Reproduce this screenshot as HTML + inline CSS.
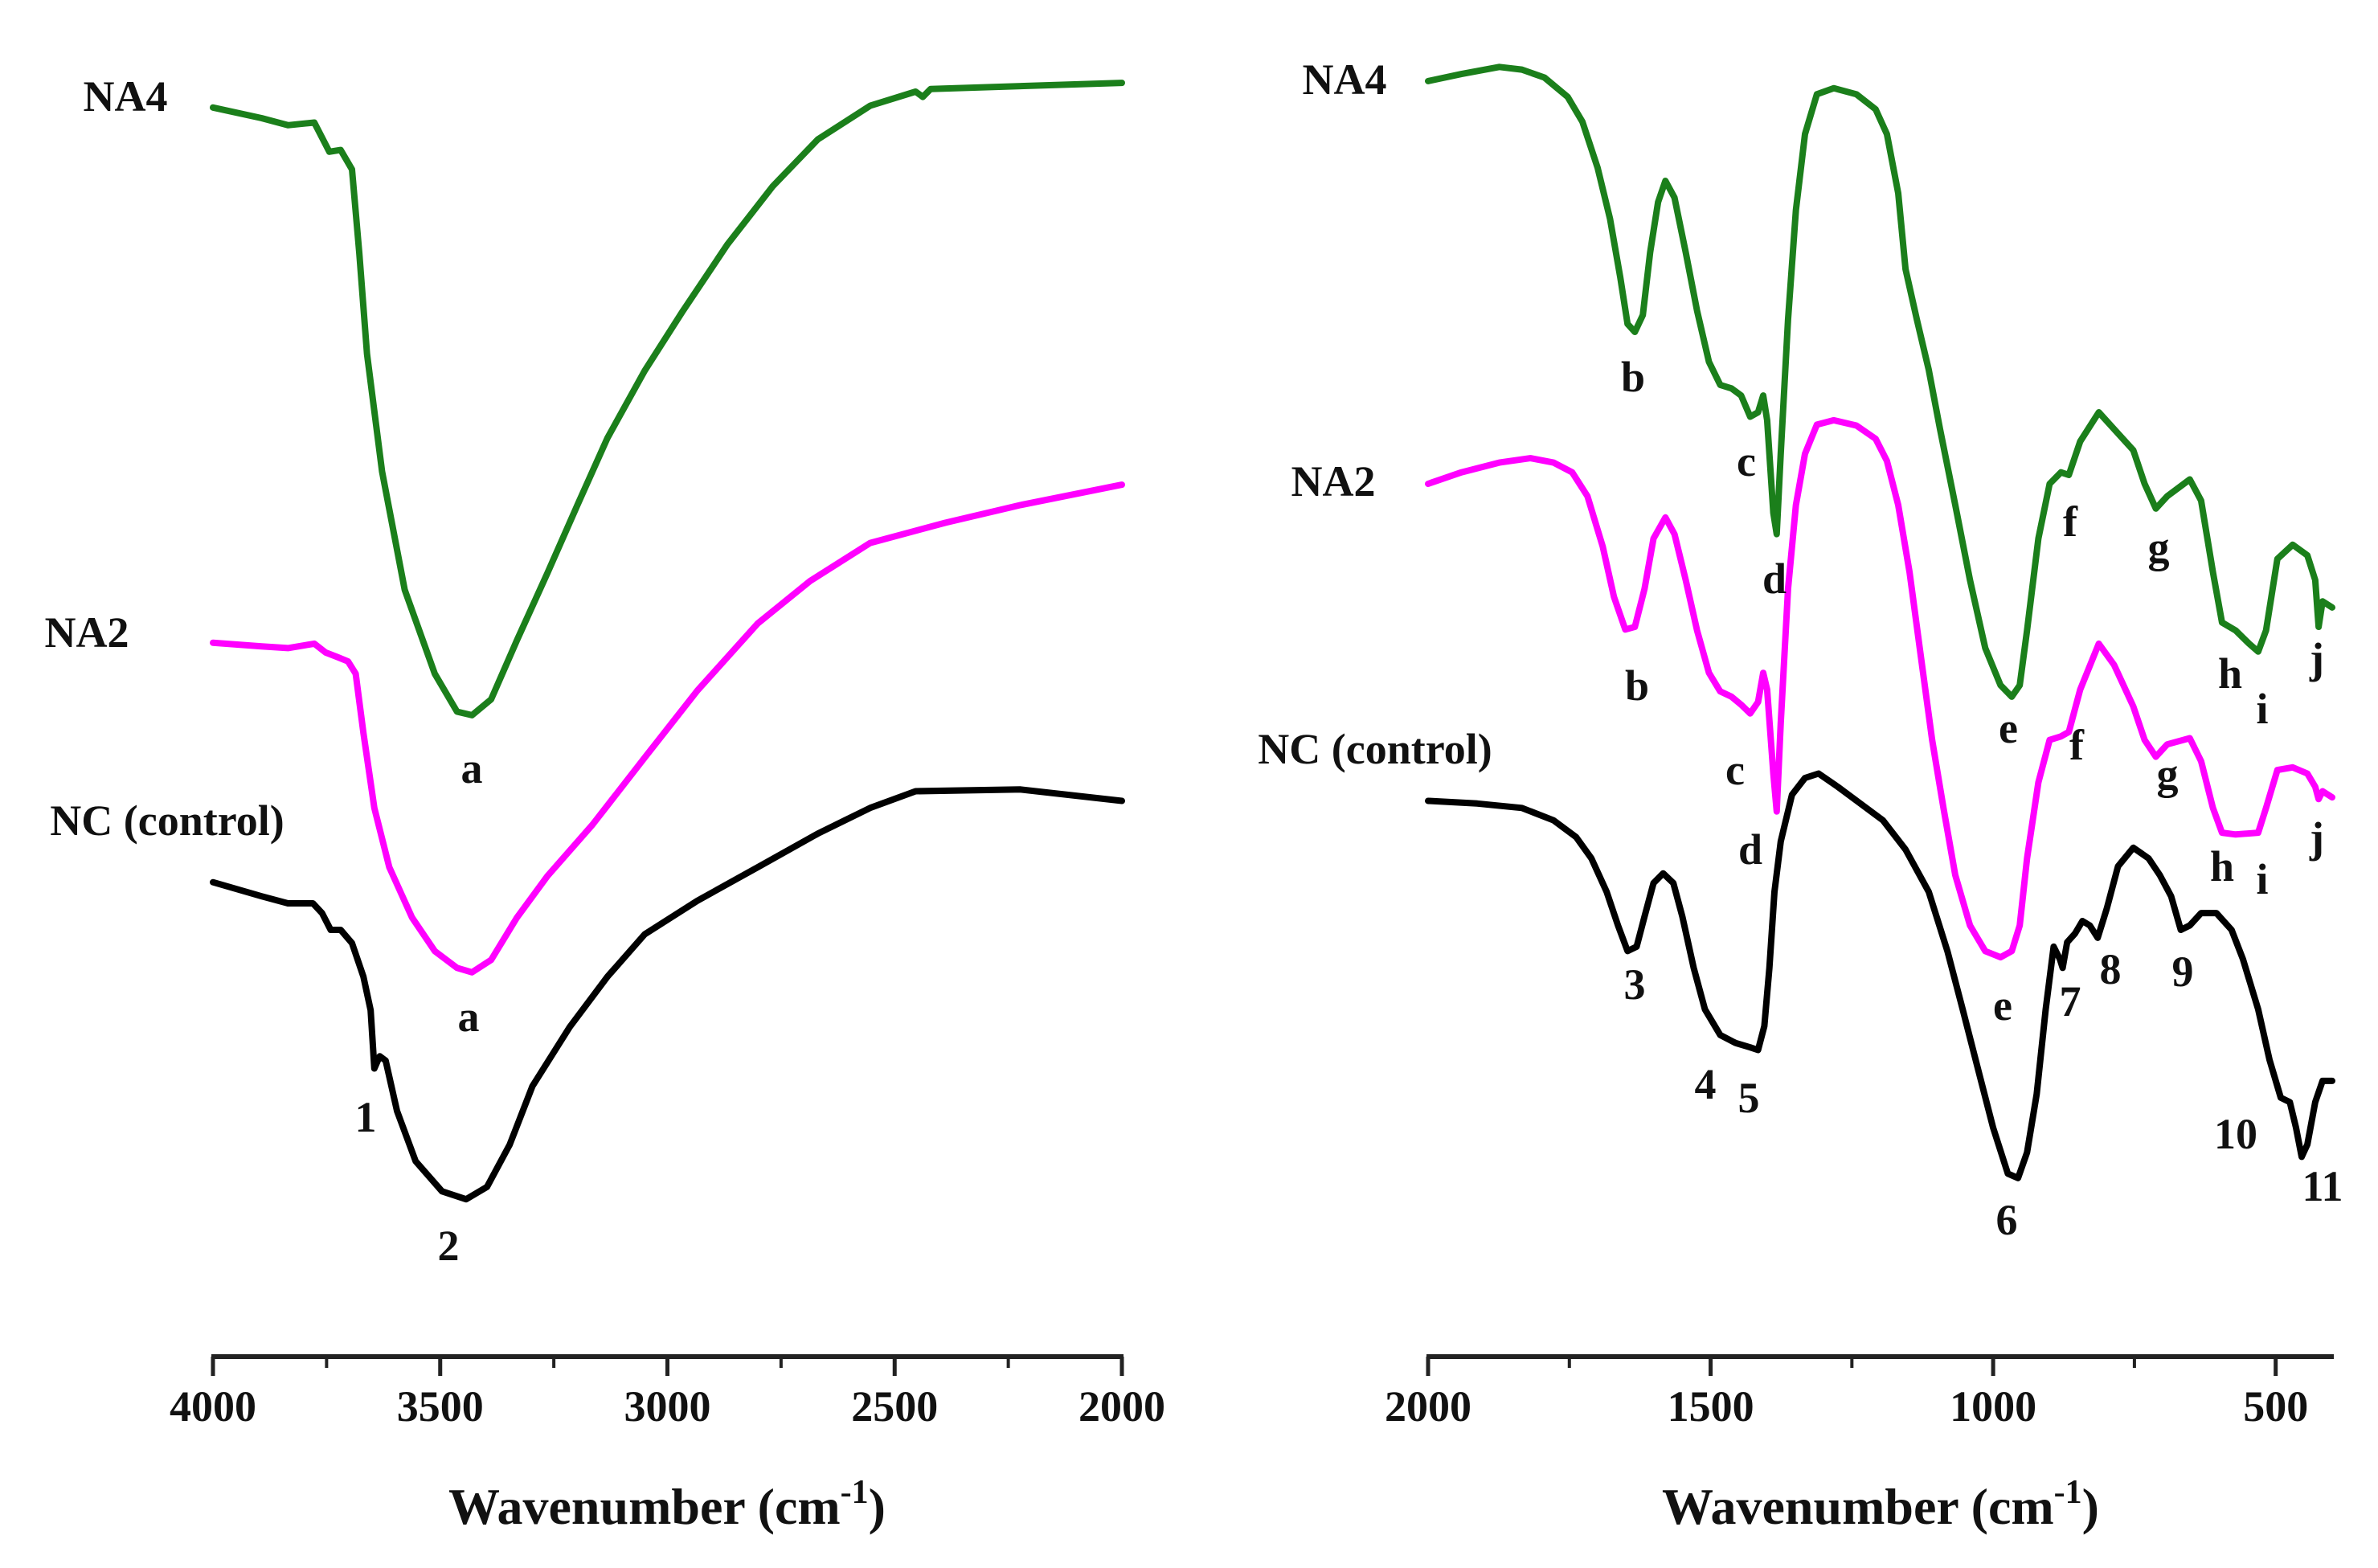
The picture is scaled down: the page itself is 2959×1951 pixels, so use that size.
<!DOCTYPE html>
<html><head><meta charset="utf-8"><style>
html,body{margin:0;padding:0;background:#fff;}
svg{display:block;font-family:"Liberation Serif",serif;font-weight:bold;}
</style></head><body>
<svg id="chart" width="2959" height="1951" viewBox="0 0 2959 1951" xmlns="http://www.w3.org/2000/svg">
<g id="axes"></g>
<g id="curves"></g>
<g font-size="54" fill="#111">
<text x="156" y="138" text-anchor="middle">NA4</text>
<text x="108" y="805" text-anchor="middle">NA2</text>
<text x="208" y="1039" text-anchor="middle">NC (control)</text>
<text x="587" y="974" text-anchor="middle">a</text>
<text x="583" y="1283" text-anchor="middle">a</text>
<text x="455" y="1408" text-anchor="middle">1</text>
<text x="558" y="1568" text-anchor="middle">2</text>
</g>
<g font-size="54" fill="#111">
<text x="1673" y="117" text-anchor="middle">NA4</text>
<text x="1659" y="617" text-anchor="middle">NA2</text>
<text x="1711" y="950" text-anchor="middle">NC (control)</text>
<text x="2032" y="487" text-anchor="middle">b</text>
<text x="2173" y="592" text-anchor="middle">c</text>
<text x="2208" y="738" text-anchor="middle">d</text>
<text x="2499" y="924" text-anchor="middle">e</text>
<text x="2576" y="667" text-anchor="middle">f</text>
<text x="2686" y="699" text-anchor="middle">g</text>
<text x="2775" y="856" text-anchor="middle">h</text>
<text x="2815" y="900" text-anchor="middle">i</text>
<text x="2883" y="837" text-anchor="middle">j</text>
<text x="2037" y="871" text-anchor="middle">b</text>
<text x="2159" y="976" text-anchor="middle">c</text>
<text x="2178" y="1075" text-anchor="middle">d</text>
<text x="2492" y="1269" text-anchor="middle">e</text>
<text x="2584" y="945" text-anchor="middle">f</text>
<text x="2697" y="981" text-anchor="middle">g</text>
<text x="2765" y="1096" text-anchor="middle">h</text>
<text x="2815" y="1112" text-anchor="middle">i</text>
<text x="2883" y="1060" text-anchor="middle">j</text>
<text x="2034" y="1243" text-anchor="middle">3</text>
<text x="2122" y="1367" text-anchor="middle">4</text>
<text x="2176" y="1384" text-anchor="middle">5</text>
<text x="2497" y="1536" text-anchor="middle">6</text>
<text x="2576" y="1264" text-anchor="middle">7</text>
<text x="2626" y="1224" text-anchor="middle">8</text>
<text x="2716" y="1227" text-anchor="middle">9</text>
<text x="2782" y="1429" text-anchor="middle">10</text>
<text x="2890" y="1494" text-anchor="middle">11</text>
</g>
<text x="830" y="1896" font-size="64" text-anchor="middle" fill="#111">Wavenumber (cm<tspan dy="-26" font-size="42">-1</tspan><tspan dy="26">)</tspan></text>
<text x="2340" y="1896" font-size="64" text-anchor="middle" fill="#111">Wavenumber (cm<tspan dy="-26" font-size="42">-1</tspan><tspan dy="26">)</tspan></text>
</svg>
<script>
// ---- data (wavenumber cm-1, transmittance a.u.) ----
const leftTicks = [4000, 3500, 3000, 2500, 2000];
const leftMinor = [3750, 3250, 2750, 2250];
const rightTicks = [2000, 1500, 1000, 500];
const rightMinor = [1750, 1250, 750];

const na4LeftWn = [4000,3893,3835,3777,3744,3719,3694,3678,3661,3628,3578,3512,3463,3430,3388,3331,3264,3198,3132,3050,2967,2868,2768,2669,2554,2454,2438,2421,2000];
const na4LeftT  = [183.0,181.8,181.0,181.3,178.0,178.2,176.0,166.5,155.1,141.8,128.4,118.9,114.6,114.2,116.0,122.7,130.3,138.0,145.6,153.2,159.9,167.5,174.1,179.4,183.2,184.8,184.2,185.1,185.8];

const na2LeftWn = [4000,3893,3835,3777,3752,3727,3703,3686,3669,3645,3612,3562,3512,3463,3430,3388,3331,3264,3165,3050,2934,2801,2686,2554,2388,2223,2000];
const na2LeftT  = [122.4,122.0,121.8,122.3,121.3,120.8,120.3,118.9,112.2,103.7,97.0,91.3,87.5,85.6,85.1,86.5,91.3,96.0,101.8,109.4,117.0,124.6,129.4,133.7,136.0,138.0,140.3];

const ncLeftWn = [4000,3893,3835,3780,3760,3741,3719,3694,3669,3653,3645,3633,3620,3595,3554,3496,3443,3397,3347,3297,3215,3132,3050,2934,2801,2669,2554,2454,2223,2000];
const ncLeftT  = [95.3,93.7,92.9,92.9,91.8,89.9,89.9,88.4,84.6,80.8,74.2,75.6,75.1,69.4,63.7,60.3,59.4,60.8,65.6,72.2,78.9,84.6,89.4,93.2,97.0,100.8,103.7,105.6,105.8,104.5];

const na4RightWn = [2000,1941,1874,1834,1794,1753,1727,1700,1678,1660,1647,1634,1620,1607,1593,1580,1564,1544,1524,1503,1483,1463,1446,1430,1416,1407,1400,1389,1383,1376,1363,1349,1333,1312,1282,1242,1208,1188,1168,1155,1135,1114,1094,1067,1041,1014,987,967,953,940,920,900,880,866,846,813,786,752,732,712,692,652,632,611,595,571,547,531,517,497,470,444,430,424,417,400];
const na4RightT  = [186.0,186.8,187.6,187.3,186.4,184.2,181.4,176.2,170.4,163.8,158.5,157.6,159.5,166.6,172.3,174.7,172.8,166.6,160.0,154.2,151.6,151.2,150.4,148.0,148.5,150.4,147.6,137.1,134.7,143.8,159.0,171.4,180.0,184.5,185.2,184.5,182.8,180.0,173.3,164.7,159.0,153.3,146.6,138.0,129.5,121.8,117.6,116.3,117.6,123.8,134.2,140.4,141.7,141.4,145.2,148.5,146.6,144.2,140.4,137.6,139.0,140.9,138.5,130.4,124.7,123.8,122.3,121.4,123.8,131.9,133.5,132.3,129.5,124.2,127.1,126.4];

const na2RightWn = [2000,1941,1874,1819,1778,1745,1718,1691,1671,1651,1634,1617,1601,1580,1564,1544,1524,1503,1483,1463,1446,1430,1416,1407,1400,1389,1383,1376,1363,1349,1333,1312,1282,1242,1208,1188,1168,1148,1128,1108,1088,1067,1041,1014,987,967,953,940,920,900,880,866,846,813,786,752,732,712,692,652,632,611,595,571,531,517,497,470,444,430,424,417,400];
const na2RightT  = [140.4,141.7,142.8,143.3,142.8,141.7,139.0,133.3,127.6,123.9,124.2,128.5,134.2,136.6,134.7,129.5,123.8,119.0,116.9,116.3,115.4,114.4,115.7,119.0,117.1,107.6,103.3,113.3,128.5,138.0,143.8,147.1,147.6,147.0,145.5,143.0,138.0,130.4,120.9,111.4,103.7,96.1,90.4,87.5,86.8,87.5,90.4,98.0,106.6,111.4,111.8,112.3,117.1,122.3,119.9,115.2,111.4,109.5,110.9,111.6,109.0,103.7,100.9,100.7,100.9,103.7,108.0,108.3,107.6,106.1,104.7,105.6,104.9];

const ncRightWn = [2000,1913,1834,1778,1738,1711,1684,1664,1647,1631,1617,1601,1584,1566,1550,1530,1510,1483,1456,1430,1416,1405,1396,1387,1376,1356,1333,1309,1275,1235,1195,1155,1114,1081,1054,1027,1000,974,956,940,923,907,893,882,877,869,855,842,829,815,799,779,752,725,705,685,668,652,632,605,578,558,531,511,491,475,464,454,444,430,417,400];
const ncRightT  = [104.5,104.2,103.7,102.3,100.4,98.0,94.2,90.4,87.5,88.0,91.4,95.2,96.3,95.2,91.4,85.6,80.9,78.0,77.1,76.6,76.3,79.0,85.6,94.2,99.9,105.2,107.1,107.6,106.1,104.2,102.3,99.0,94.2,87.5,80.9,74.2,67.5,62.3,61.8,64.7,71.3,80.9,88.0,86.6,85.6,88.5,89.5,90.9,90.4,89.0,92.3,97.1,99.2,98.0,96.1,93.7,89.9,90.4,91.8,91.8,89.9,86.6,80.9,75.2,70.9,70.4,67.5,64.2,65.6,70.4,72.8,72.8];

// ---- scales ----
const LX0 = 265, LX1 = 1396, LW0 = 4000, LW1 = 2000;
const RX0 = 1777, RX1 = 2902, RW0 = 2000, RW1 = 400;
const AXIS_Y = 1688;
function xLeft(w){ return LX0 + (LW0 - w) / (LW0 - LW1) * (LX1 - LX0); }
function xRight(w){ return RX0 + (RW0 - w) / (RW0 - RW1) * (RX1 - RX0); }
function yScale(t){ return 2145 - 10.99 * t; }

const NS = "http://www.w3.org/2000/svg";
const axes = document.getElementById('axes');
const curves = document.getElementById('curves');

function mk(tag, attrs, parent){
  const e = document.createElementNS(NS, tag);
  for (const k in attrs) e.setAttribute(k, attrs[k]);
  parent.appendChild(e);
  return e;
}

function drawAxis(x0, x1, ticks, minor, xs, side){
  const line = mk('line', {x1:x0-2, x2:x1+2, y1:AXIS_Y, y2:AXIS_Y, stroke:'#222', 'stroke-width':6}, axes);
  
  
  ticks.forEach(function(t){
    const x = xs(t);
    const tk = mk('line', {x1:x, x2:x, y1:AXIS_Y, y2:AXIS_Y+24, stroke:'#222', 'stroke-width':5}, axes);
    
    
    const lb = mk('text', {x:x, y:AXIS_Y+80, 'font-size':54, 'text-anchor':'middle', fill:'#111'}, axes);
    lb.textContent = t;
    
    
  });
  minor.forEach(function(t){
    const x = xs(t);
    const tk = mk('line', {x1:x, x2:x, y1:AXIS_Y, y2:AXIS_Y+14, stroke:'#222', 'stroke-width':4}, axes);
    
    
  });
}
drawAxis(LX0, LX1, leftTicks, leftMinor, xLeft, 'left');
drawAxis(RX0, RX1, rightTicks, rightMinor, xRight, 'right');

function drawCurve(wn, t, xs, color, name){
  let d = '';
  for (let i = 0; i < wn.length; i++){
    d += (i ? 'L' : 'M') + xs(wn[i]).toFixed(1) + ',' + yScale(t[i]).toFixed(1);
  }
  const p = mk('path', {d:d, fill:'none', stroke:color, 'stroke-width':8, 'stroke-linejoin':'round', 'stroke-linecap':'round'}, curves);
  
  
}
drawCurve(na4LeftWn, na4LeftT, xLeft, '#1b7f1b', 'na4-curve-left');
drawCurve(na2LeftWn, na2LeftT, xLeft, '#ff00ff', 'na2-curve-left');
drawCurve(ncLeftWn, ncLeftT, xLeft, '#000000', 'nc-curve-left');
drawCurve(na4RightWn, na4RightT, xRight, '#1b7f1b', 'na4-curve-right');
drawCurve(na2RightWn, na2RightT, xRight, '#ff00ff', 'na2-curve-right');
drawCurve(ncRightWn, ncRightT, xRight, '#000000', 'nc-curve-right');
</script>
</body></html>
